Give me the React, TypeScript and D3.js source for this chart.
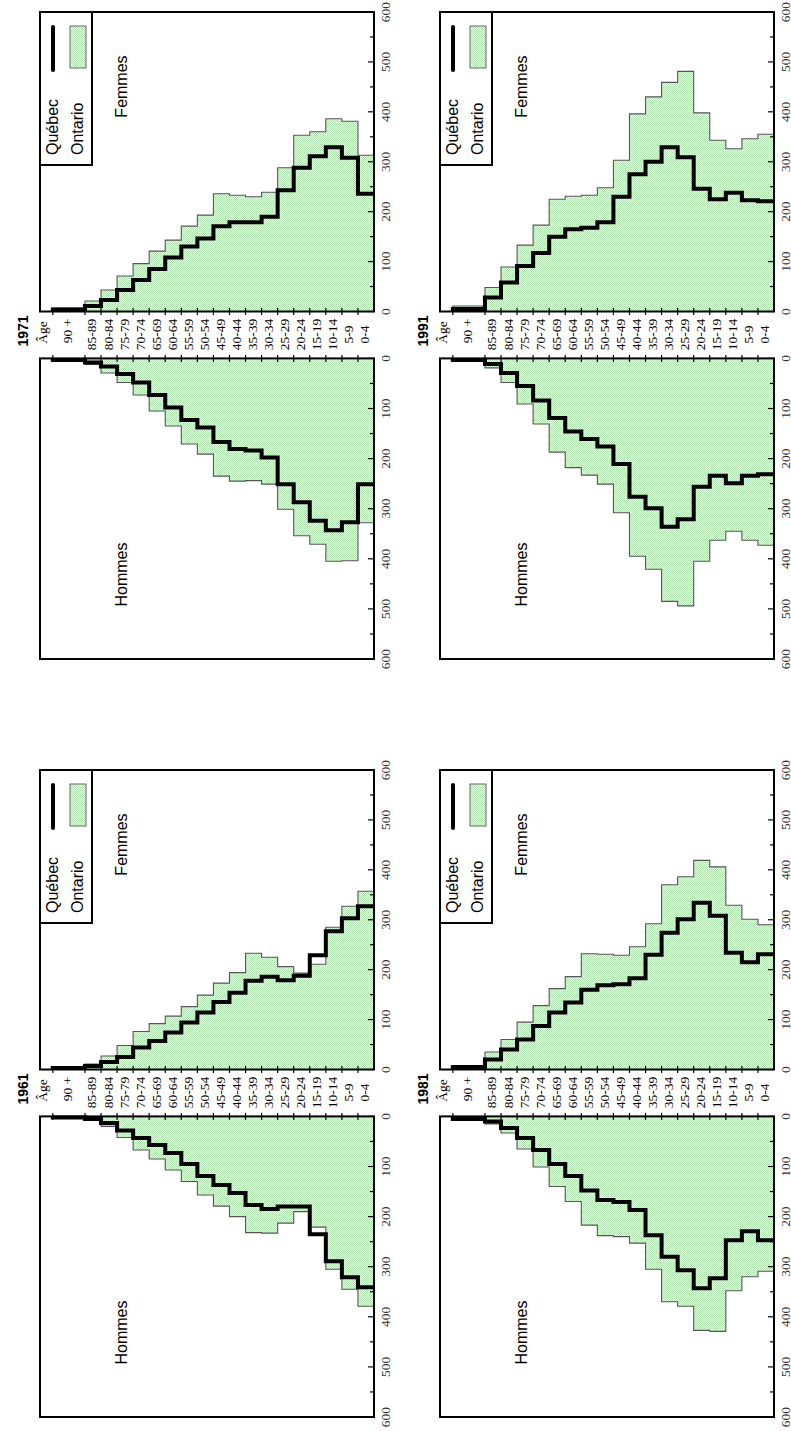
import React from "react";
import * as d3 from "d3";

// Age groups, from oldest (top) to youngest (bottom)
const AGE_LABELS = ["90 +", "85-89", "80-84", "75-79", "70-74", "65-69", "60-64", "55-59", "50-54", "45-49", "40-44", "35-39", "30-34", "25-29", "20-24", "15-19", "10-14", "5-9", "0-4"];
const AGE_HIGH = [100, 90, 85, 80, 75, 70, 65, 60, 55, 50, 45, 40, 35, 30, 25, 20, 15, 10, 5];
const AGE_TICKS = [100, 90, 85, 80, 75, 70, 65, 60, 55, 50, 45, 40, 35, 30, 25, 20, 15, 10, 5];
const VALUE_TICKS = [0, 100, 200, 300, 400, 500, 600];
const VALUE_MINOR = [50, 150, 250, 350, 450, 550];

const YEARS = ["1961", "1971", "1981", "1991"];

// values in thousands, order = AGE_LABELS
const QC_MEN_1961 = [2, 5, 13, 28, 43, 57, 73, 95, 119, 137, 153, 177, 185, 180, 180, 235, 289, 321, 341];
const ON_MEN_1961 = [3, 8, 20, 42, 67, 85, 107, 130, 157, 179, 200, 232, 233, 213, 190, 221, 305, 345, 379];
const QC_WOMEN_1961 = [3, 7, 15, 25, 44, 57, 74, 94, 114, 135, 154, 178, 186, 179, 188, 229, 277, 303, 327];
const ON_WOMEN_1961 = [4, 11, 27, 48, 76, 92, 107, 126, 149, 173, 194, 233, 225, 206, 193, 211, 285, 327, 357];

const QC_MEN_1971 = [3, 8, 16, 31, 48, 73, 98, 123, 138, 167, 181, 184, 198, 251, 287, 324, 343, 327, 251];
const ON_MEN_1971 = [4, 12, 29, 48, 73, 105, 135, 171, 191, 235, 245, 244, 251, 301, 354, 371, 405, 404, 328];
const QC_WOMEN_1971 = [4, 11, 23, 43, 63, 85, 108, 130, 146, 171, 179, 179, 190, 243, 288, 311, 329, 308, 236];
const ON_WOMEN_1971 = [7, 21, 43, 71, 96, 121, 143, 171, 193, 236, 233, 230, 239, 288, 353, 360, 386, 381, 313];

const QC_MEN_1981 = [5, 10, 23, 43, 67, 95, 119, 148, 167, 171, 187, 237, 280, 307, 343, 323, 247, 229, 247];
const ON_MEN_1981 = [5, 15, 33, 65, 101, 140, 170, 217, 238, 240, 253, 305, 370, 379, 427, 429, 348, 320, 309];
const QC_WOMEN_1981 = [5, 20, 40, 60, 87, 114, 134, 160, 169, 171, 183, 230, 274, 301, 334, 308, 234, 215, 231];
const ON_WOMEN_1981 = [8, 35, 60, 95, 128, 162, 186, 232, 231, 229, 246, 292, 370, 386, 419, 406, 329, 301, 290];

const QC_MEN_1991 = [3, 11, 29, 55, 84, 119, 146, 161, 176, 211, 276, 299, 336, 321, 256, 234, 249, 234, 231];
const ON_MEN_1991 = [5, 19, 48, 91, 131, 187, 218, 233, 251, 308, 395, 421, 485, 494, 405, 363, 345, 363, 373];
const QC_WOMEN_1991 = [5, 28, 58, 91, 117, 150, 165, 168, 179, 230, 275, 300, 329, 309, 246, 225, 238, 223, 221];
const ON_WOMEN_1991 = [11, 48, 89, 133, 173, 225, 231, 233, 248, 303, 396, 430, 459, 481, 398, 343, 326, 346, 355];

const SANS = "Arial, 'Liberation Sans', Helvetica, sans-serif";
const SERIF = "'Times New Roman', 'Liberation Serif', Times, serif";

type Pt = { v: number; a: number };

function Pyramid(props: {
  year: string;
  qcMen: number[];
  onMen: number[];
  qcWomen: number[];
  onWomen: number[];
  ox: number;
  oy: number;
}) {
  const { year, qcMen, onMen, qcWomen, onWomen, ox, oy } = props;
  const ageY = d3.scaleLinear().domain([0, 104]).range([374, 40]);
  const menX = d3.scaleLinear().domain([0, 600]).range([314.6, 14]);
  const womenX = d3.scaleLinear().domain([0, 600]).range([361.5, 661]);
  const gapC = (menX(0) + womenX(0)) / 2;

  const pts = (vals: number[]): Pt[] => [
    { v: 0, a: 100 },
    ...vals.map((v, i) => ({ v, a: AGE_HIGH[i] })),
    { v: vals[vals.length - 1], a: 0 },
  ];
  const lineGen = (xs: d3.ScaleLinear<number, number>) =>
    d3.line<Pt>().x((d) => xs(d.v)).y((d) => ageY(d.a)).curve(d3.curveStepBefore);
  const areaGen = (xs: d3.ScaleLinear<number, number>) =>
    d3.area<Pt>().y((d) => ageY(d.a)).x0(xs(0)).x1((d) => xs(d.v)).curve(d3.curveStepBefore);

  const side = (xs: d3.ScaleLinear<number, number>, qc: number[], on: number[], key: string) => {
    const x0 = Math.min(xs(0), xs(600));
    const w = Math.abs(xs(600) - xs(0));
    const innerX = xs(0);
    const dir = xs(600) > xs(0) ? 1 : -1;
    return (
      <g key={key}>
        <path d={areaGen(xs)(pts(on)) || ""} fill="url(#ontarioDots)" stroke="none" />
        <path d={lineGen(xs)(pts(on)) || ""} fill="none" stroke="#555" strokeWidth={1.1} />
        <path d={lineGen(xs)(pts(qc)) || ""} fill="none" stroke="#000" strokeWidth={4} strokeLinejoin="miter" />
        <rect x={x0} y={ageY(104)} width={w} height={ageY(0) - ageY(104)} fill="none" stroke="#000" strokeWidth={2} />
        {VALUE_TICKS.map((t) => (
          <line key={"mt" + t} x1={xs(t)} x2={xs(t)} y1={ageY(0)} y2={ageY(0) - 6} stroke="#000" strokeWidth={1.2} />
        ))}
        {VALUE_MINOR.map((t) => (
          <line key={"nt" + t} x1={xs(t)} x2={xs(t)} y1={ageY(0)} y2={ageY(0) - 4} stroke="#000" strokeWidth={1.2} />
        ))}
        {VALUE_TICKS.map((t) => (
          <text key={"tl" + t} x={xs(t)} y={389.5} textAnchor="middle" fontFamily={SERIF} fontSize={13.5} fill="#333">
            {t}
          </text>
        ))}
        {AGE_TICKS.map((a) => (
          <line key={"at" + a} x1={innerX - 3.5 * dir} x2={innerX + 3.5 * dir} y1={ageY(a)} y2={ageY(a)} stroke="#000" strokeWidth={1.2} />
        ))}
      </g>
    );
  };

  return (
    <g transform={`translate(${ox},${oy})`}>
      {side(menX, qcMen, onMen, "men")}
      {side(womenX, qcWomen, onWomen, "women")}
      {/* age labels */}
      <text x={gapC + 4} y={28} textAnchor="middle" fontFamily={SANS} fontWeight="bold" fontSize={14}>
        {year}
      </text>
      <text x={gapC + 2.5} y={47} textAnchor="middle" fontFamily={SERIF} fontSize={13.5}>
        Âge
      </text>
      {AGE_LABELS.map((lab, i) => {
        const mid = i === 0 ? 95 : AGE_HIGH[i] - 2.5;
        return (
          <text key={lab} x={gapC + (i === 0 ? 4 : 0.5)} y={ageY(mid) + 3.5} textAnchor="middle" fontFamily={SERIF} fontSize={13.5}>
            {lab}
          </text>
        );
      })}
      {/* panel titles */}
      <text x={98.5} y={127} textAnchor="middle" fontFamily={SANS} fontSize={16}>
        Hommes
      </text>
      <text x={586.5} y={127} textAnchor="middle" fontFamily={SANS} fontSize={16}>
        Femmes
      </text>
      {/* legend */}
      <rect x={508} y={40} width={153} height={52} fill="#fff" stroke="#000" strokeWidth={2} />
      <text x={518} y={58} fontFamily={SANS} fontSize={16}>
        Québec
      </text>
      <text x={518} y={83} fontFamily={SANS} fontSize={16}>
        Ontario
      </text>
      <line x1={603} x2={646} y1={53} y2={53} stroke="#000" strokeWidth={4} strokeLinecap="round" />
      <rect x={605} y={70} width={42} height={16} fill="url(#ontarioDots)" stroke="#666" strokeWidth={1} />
    </g>
  );
}

export default function App() {
  const blocks = [
    { year: YEARS[0], qcMen: QC_MEN_1961, onMen: ON_MEN_1961, qcWomen: QC_WOMEN_1961, onWomen: ON_WOMEN_1961, ox: 0, oy: 0 },
    { year: YEARS[1], qcMen: QC_MEN_1971, onMen: ON_MEN_1971, qcWomen: QC_WOMEN_1971, onWomen: ON_WOMEN_1971, ox: 758, oy: 0 },
    { year: YEARS[2], qcMen: QC_MEN_1981, onMen: ON_MEN_1981, qcWomen: QC_WOMEN_1981, onWomen: ON_WOMEN_1981, ox: 0, oy: 400 },
    { year: YEARS[3], qcMen: QC_MEN_1991, onMen: ON_MEN_1991, qcWomen: QC_WOMEN_1991, onWomen: ON_WOMEN_1991, ox: 758, oy: 400 },
  ];
  return (
    <svg
      width={791}
      height={1431}
      viewBox="0 0 791 1431"
      style={{ position: "absolute", left: 0, top: 0, display: "block", background: "#fff" }}
    >
      <defs>
        <pattern id="ontarioDots" width={2} height={2} patternUnits="userSpaceOnUse">
          <rect width={2} height={2} fill="#eef8ee" />
          <rect x={0} y={0} width={1} height={1} fill="#b0dfb0" />
          <rect x={1} y={1} width={1} height={1} fill="#b0dfb0" />
        </pattern>
      </defs>
      <rect width={791} height={1431} fill="#fff" />
      <g transform="translate(0,1431) rotate(-90)">
        {blocks.map((b) => (
          <Pyramid key={b.year} {...b} />
        ))}
      </g>
    </svg>
  );
}
